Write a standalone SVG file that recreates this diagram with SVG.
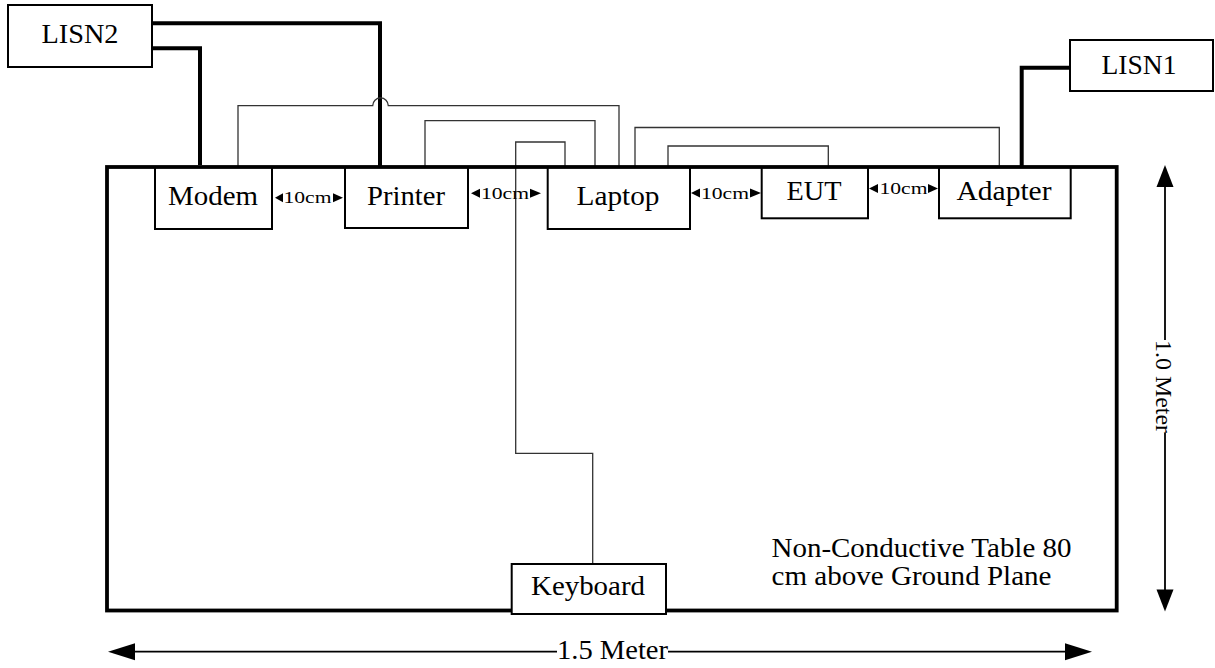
<svg xmlns="http://www.w3.org/2000/svg" width="1215" height="668" viewBox="0 0 1215 668">
<style>
.box{fill:#fff;stroke:#000;stroke-width:2}
.lbl{font-family:"Liberation Serif","Times New Roman",serif;font-size:27px;fill:#000;text-anchor:middle}
.sm{font-family:"Liberation Serif","Times New Roman",serif;font-size:17px;fill:#000;text-anchor:middle}
.thick{fill:none;stroke:#000;stroke-width:4}
.thin{fill:none;stroke:#333;stroke-width:1.3}
.tbl{fill:none;stroke:#000;stroke-width:3.8}
.dim{fill:none;stroke:#000;stroke-width:1.8}
.ah{fill:#000}
</style>
<g id="connectors">
<path class="thick" d="M152 23.3 H380 V167"/>
<path class="thick" d="M152 48.3 H200 V165"/>
<path class="thick" d="M1021.7 167 V67.7 H1070"/>
<path class="thin" d="M238 167 V105.7 H372.7 A7.8 7.8 0 0 1 388.3 105.7 H619 V167"/>
<path class="thin" d="M425 167 V120.7 H595 V167"/>
<path class="thin" d="M565 167 V142 H515.7 V453.3 H592.7 V564"/>
<path class="thin" d="M635 167 V127.5 H999.3 V167"/>
<path class="thin" d="M668 167 V146 H828.3 V167"/>
</g>
<g id="LISN2"><rect class="box" x="8" y="5" width="144" height="62"/><text class="lbl" x="80" y="43" textLength="77" lengthAdjust="spacingAndGlyphs">LISN2</text></g>
<g id="LISN1"><rect class="box" x="1070" y="40" width="143" height="51"/><text class="lbl" x="1139" y="73.5" textLength="75" lengthAdjust="spacingAndGlyphs">LISN1</text></g>
<g id="Modem"><rect class="box" x="155" y="167" width="117" height="62"/><text class="lbl" x="213" y="205" textLength="90" lengthAdjust="spacingAndGlyphs">Modem</text></g>
<g id="Printer"><rect class="box" x="345" y="167" width="123" height="61"/><text class="lbl" x="406" y="205" textLength="78" lengthAdjust="spacingAndGlyphs">Printer</text></g>
<g id="Laptop"><rect class="box" x="547.7" y="167" width="142.3" height="62"/><text class="lbl" x="618" y="205" textLength="83" lengthAdjust="spacingAndGlyphs">Laptop</text></g>
<g id="EUT"><rect class="box" x="761.7" y="167" width="106.3" height="51.3"/><text class="lbl" x="814" y="200" textLength="55" lengthAdjust="spacingAndGlyphs">EUT</text></g>
<g id="Adapter"><rect class="box" x="939" y="167" width="131.7" height="51.3"/><text class="lbl" x="1004" y="200" textLength="95" lengthAdjust="spacingAndGlyphs">Adapter</text></g>
<g id="table"><rect class="tbl" x="107" y="167" width="1009.7" height="443.5"/>
<text class="lbl" x="771.5" y="557" style="text-anchor:start" textLength="300" lengthAdjust="spacingAndGlyphs">Non-Conductive Table 80</text>
<text class="lbl" x="771.5" y="585" style="text-anchor:start" textLength="280" lengthAdjust="spacingAndGlyphs">cm above Ground Plane</text>
</g>
<g id="Keyboard"><rect class="box" x="511.7" y="564" width="154.3" height="50"/><text class="lbl" x="588" y="595" textLength="114" lengthAdjust="spacingAndGlyphs">Keyboard</text></g>
<g id="spacings">
<polygon class="ah" points="275,197.7 283,193.2 283,202.2"/><polygon class="ah" points="343,197.7 333,193.2 333,202.2"/>
<text class="sm" x="307.5" y="203" textLength="48" lengthAdjust="spacingAndGlyphs">10cm</text>
<polygon class="ah" points="471,193.3 480,188.8 480,197.8"/><polygon class="ah" points="541,193.3 530,188.8 530,197.8"/>
<text class="sm" x="505" y="198.5" textLength="48" lengthAdjust="spacingAndGlyphs">10cm</text>
<polygon class="ah" points="691,193 700,188.5 700,197.5"/><polygon class="ah" points="761,193 750,188.5 750,197.5"/>
<text class="sm" x="725" y="198.5" textLength="48" lengthAdjust="spacingAndGlyphs">10cm</text>
<polygon class="ah" points="869,188.5 878,184 878,193"/><polygon class="ah" points="938,188.5 928,184 928,193"/>
<text class="sm" x="903.5" y="194" textLength="48" lengthAdjust="spacingAndGlyphs">10cm</text>
</g>
<g id="dim-width">
<path class="dim" d="M130 651.7 H557 M668 651.7 H1068"/>
<polygon class="ah" points="108,651.7 135,643.2 135,660.2"/>
<polygon class="ah" points="1092,651.7 1065,643.2 1065,660.2"/>
<text class="lbl" x="612.5" y="659" textLength="111" lengthAdjust="spacingAndGlyphs">1.5 Meter</text>
</g>
<g id="dim-height">
<path class="dim" d="M1165 180 V340 M1165 433 V595"/>
<polygon class="ah" points="1165,165 1156.5,187 1173.5,187"/>
<polygon class="ah" points="1165,611.5 1156.5,589.5 1173.5,589.5"/>
<text class="lbl" transform="translate(1155.5,386.5) rotate(90)" style="font-size:24px" textLength="93" lengthAdjust="spacingAndGlyphs">1.0 Meter</text>
</g>
</svg>
